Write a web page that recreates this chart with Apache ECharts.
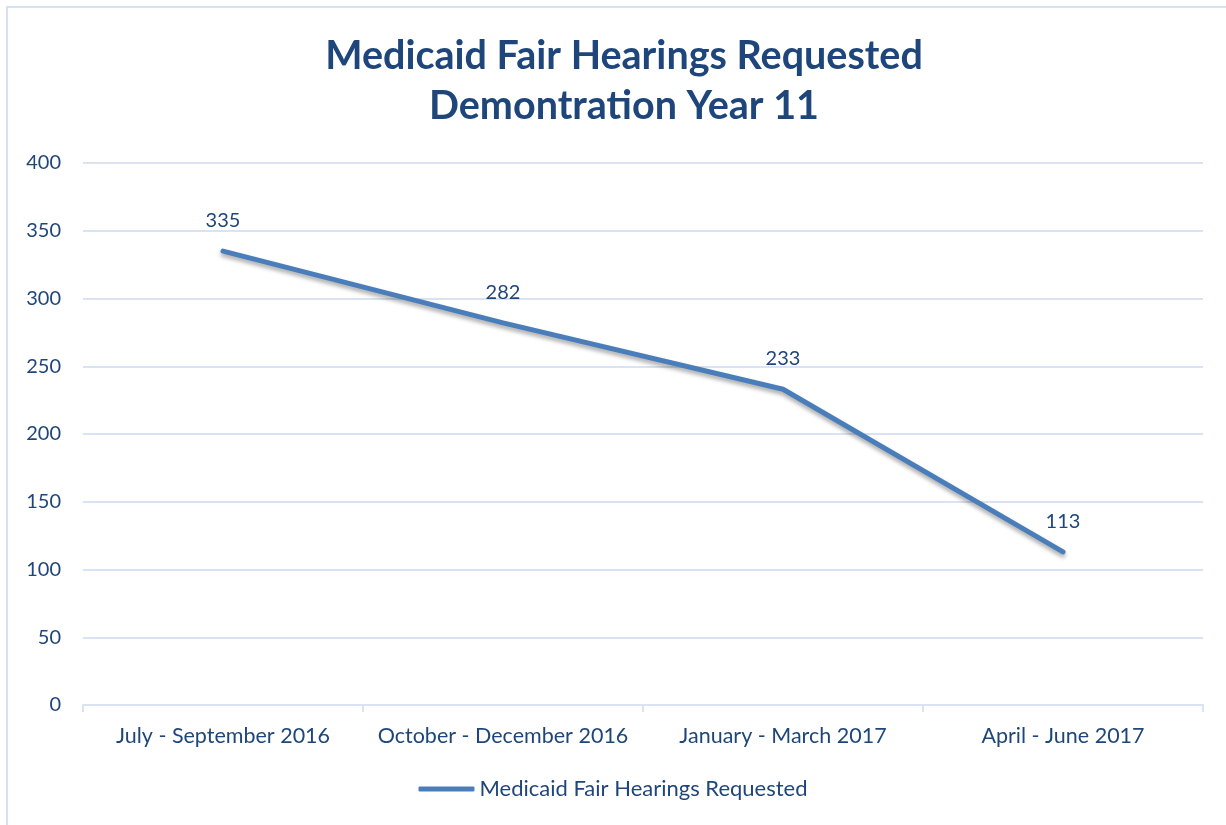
<!DOCTYPE html>
<html>
<head>
<meta charset="utf-8">
<script src="https://cdn.jsdelivr.net/npm/echarts@6/dist/echarts.min.js"></script>
<style>
  html, body { margin: 0; padding: 0; background: #fff; }
  #frame { position: absolute; left: 6px; top: 6px; width: 1230px; height: 830px; border: 2px solid #D6E2F2; box-sizing: border-box; }
  #main { position: absolute; left: 0; top: 0; width: 1226px; height: 825px; }
</style>
</head>
<body>
<div id="frame"></div>
<div id="main"></div>
<script>
  const categories = ['July - September 2016', 'October - December 2016', 'January - March 2017', 'April - June 2017'];
  const hearings = [335, 282, 233, 113];
  const seriesName = 'Medicaid Fair Hearings Requested';

  const textColor = '#1F467A';
  const gridColor = '#D9E3F1';

  let myChart = echarts.init(document.getElementById('main'));
  let option = {
    animation: false,
    title: {
      text: 'Medicaid Fair Hearings Requested\nDemontration Year 11',
      left: 619,
      textAlign: 'center',
      top: 26,
      textStyle: {
        fontFamily: 'Lato',
        fontWeight: 'bold',
        fontSize: 39.5,
        lineHeight: 50,
        color: '#1F467A'
      }
    },
    legend: {
      bottom: 20,
      left: 'center',
      icon: 'roundRect',
      itemWidth: 56,
      itemHeight: 5,
      textStyle: { fontFamily: 'Lato', fontSize: 22, color: textColor },
      data: [seriesName]
    },
    grid: {
      left: 83,
      right: 23,
      top: 163,
      bottom: 120
    },
    xAxis: {
      type: 'category',
      data: categories,
      boundaryGap: true,
      axisLine: { lineStyle: { color: gridColor, width: 2 } },
      axisTick: { show: true, interval: 0, length: 7, lineStyle: { color: gridColor, width: 2 } },
      axisLabel: { interval: 0, fontFamily: 'Lato', fontSize: 21.5, color: textColor, margin: 20 }
    },
    yAxis: {
      type: 'value',
      min: 0,
      max: 400,
      interval: 50,
      axisLine: { show: false },
      axisTick: { show: false },
      splitLine: { lineStyle: { color: gridColor, width: 2 } },
      axisLabel: { fontFamily: 'Lato', fontSize: 20, color: textColor, margin: 22 }
    },
    series: [{
      name: seriesName,
      type: 'line',
      data: hearings,
      symbol: 'circle',
      symbolSize: 1,
      color: '#4A7EBB',
      lineStyle: {
        width: 5,
        color: '#4A7EBB',
        cap: 'round',
        shadowColor: 'rgba(0,0,0,0.35)',
        shadowBlur: 4,
        shadowOffsetY: 3
      },
      label: {
        show: true,
        position: 'top',
        distance: 20,
        fontFamily: 'Lato',
        fontSize: 20,
        color: textColor
      }
    }]
  };
  myChart.setOption(option);
</script>
</body>
</html>
